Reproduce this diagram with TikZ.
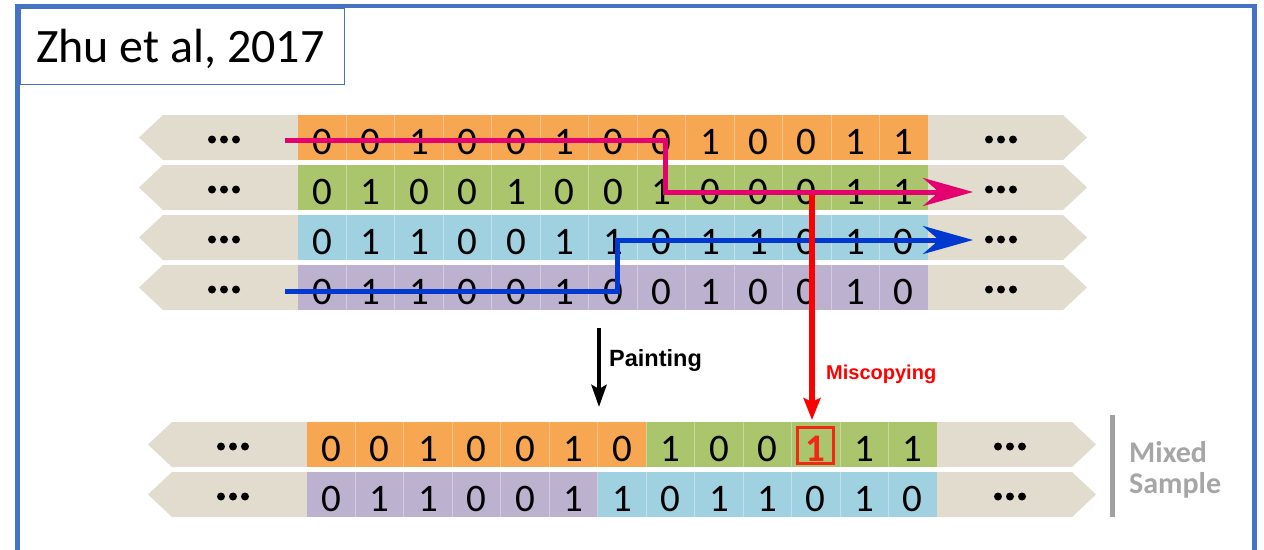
\documentclass[tikz,border=0pt]{standalone}
\usepackage{fontspec}
\setmainfont{Carlito}
\newfontfamily\arialf{Liberation Sans}
\usetikzlibrary{arrows.meta}
\definecolor{frameblue}{RGB}{68,114,196}
\definecolor{graybg}{RGB}{225,220,205}
\definecolor{corange}{RGB}{247,166,82}
\definecolor{cgreen}{RGB}{171,197,108}
\definecolor{cblue}{RGB}{160,209,225}
\definecolor{cpurple}{RGB}{188,177,207}
\definecolor{pinkline}{RGB}{228,0,110}
\definecolor{blueline}{RGB}{0,56,208}
\definecolor{redline}{RGB}{255,0,0}
\definecolor{boxred}{RGB}{240,40,20}
\definecolor{labelgray}{RGB}{166,166,166}
\definecolor{bargray}{RGB}{160,160,160}
\newcommand\redone{\textcolor{boxred}{\bfseries 1}}
\tikzset{
  cellbox/.style={inner sep=0pt, outer sep=0pt, minimum width=48.46pt, minimum height=45pt},
  digit/.style={inner sep=0pt, font=\fontsize{39}{39}\selectfont},
  dotsbox/.style={inner sep=0pt, outer sep=0pt, minimum width=32pt, minimum height=8pt},
  pathline/.style={line width=5pt, -{Stealth[length=50pt,width=28pt,inset=16pt]}},
  downarrow/.style={line width=5pt, -{Stealth[length=22pt,width=17pt,inset=4pt]}},
}
\newcommand\bitrow[7]{%
  \fill[graybg] ({#2-159},{#3+22.5}) -- ({#2-135},#3) -- (#2,#3) -- (#2,{#3+45}) -- ({#2-135},{#3+45}) -- cycle;
  \fill[graybg] ({#2+630},#3) -- ({#2+765},#3) -- ({#2+789},{#3+22.5}) -- ({#2+765},{#3+45}) -- ({#2+630},{#3+45}) -- cycle;
  \node[dotsbox] (#1-L) at ({#2-74},{#3+24.5}) {};
  \node[dotsbox] (#1-R) at ({#2+703},{#3+24.5}) {};
  \foreach \k in {-12,0,12} {
    \fill ([xshift=\k pt]#1-L.center) circle[radius=4pt];
    \fill ([xshift=\k pt]#1-R.center) circle[radius=4pt];
  }
  \foreach \d [count=\i from 0] in {#7} {
    \ifnum\i<#4\relax \def\cc{#5}\else\def\cc{#6}\fi
    \node[cellbox, fill=\cc, anchor=north west] (#1-\i) at ({#2+\i*48.46},#3) {};
    \ifnum\i>0\relax
      \draw[white, opacity=0.35, line width=1pt] ({#2+\i*48.46},#3) -- ({#2+\i*48.46},{#3+45});
    \fi
    \node[digit, anchor=base] (#1-d\i) at ({#2+(\i+0.5)*48.46},{#3+39}) {\d};
  }
}
\begin{document}
\begin{tikzpicture}[x=1pt,y=-1pt]
\useasboundingbox (0,0) rectangle (1264,549);
\clip (0,0) rectangle (1264,549);
\fill[white] (0,0) rectangle (1264,549);
% outer frame
\draw[frameblue, line width=4.5pt] (17.5,6) rectangle (1254.5,620);
% title
\node[draw=frameblue, line width=1.3pt, fill=white, inner sep=0pt, minimum width=324pt, minimum height=75.5pt, anchor=north west] (titlebox) at (20,8) {};
\node[anchor=base west, inner sep=0pt, font=\fontsize{48}{48}\selectfont] (title) at (36,62) {Zhu et al, 2017};
% top rows
\bitrow{r1}{298}{115}{13}{corange}{corange}{0,0,1,0,0,1,0,0,1,0,0,1,1}
\bitrow{r2}{298}{165}{13}{cgreen}{cgreen}{0,1,0,0,1,0,0,1,0,0,0,1,1}
\bitrow{r3}{298}{215}{13}{cblue}{cblue}{0,1,1,0,0,1,1,0,1,1,0,1,0}
\bitrow{r4}{298}{265}{13}{cpurple}{cpurple}{0,1,1,0,0,1,0,0,1,0,0,1,0}
% bottom rows
\bitrow{ma}{307}{422}{7}{corange}{cgreen}{0,0,1,0,0,1,0,1,0,0,\redone,1,1}
\bitrow{mb}{307}{472}{6}{cpurple}{cblue}{0,1,1,0,0,1,1,0,1,1,0,1,0}
\node[draw=boxred, line width=2.8pt, inner sep=0pt, minimum width=36pt, minimum height=36pt] (mbox) at (815.8,445.5) {};
% connector coordinates
\coordinate (b0) at (285,291);
\coordinate (b1) at (617,291);
\coordinate (b2) at (617,240);
\coordinate (b3) at (973,240);
\coordinate (p0) at (285,140);
\coordinate (p1) at (665,140);
\coordinate (p2) at (665,192);
\coordinate (p3) at (973,192);
\coordinate (m0) at (812,192);
\coordinate (m1) at (812,420);
\coordinate (pa0) at (599,328);
\coordinate (pa1) at (599,407);
\coordinate (bar0) at (1112,415);
\coordinate (bar1) at (1112,517);
% lines
\draw[blueline, pathline] (b0) -- (b1) -- (b2) -- (b3);
\draw[redline, downarrow, line width=5.5pt] (m0) -- (m1);
\draw[pinkline, pathline] (p0) -- (p1) -- (p2) -- (p3);
\draw[black, downarrow, line width=4.5pt, -{Stealth[length=22pt,width=15pt,inset=4pt]}] (pa0) -- (pa1);
\node[anchor=base west, inner sep=0pt, font=\arialf\bfseries\fontsize{23.5}{23.5}\selectfont] (painting) at (609,366.7) {Painting};
\node[anchor=base west, inner sep=0pt, text=redline, font=\arialf\bfseries\fontsize{20}{20}\selectfont] (miscopying) at (826,379) {Miscopying};
% mixed sample
\draw[bargray, line width=5pt] (bar0) -- (bar1);
\node[anchor=base west, inner sep=0pt, text=labelgray, font=\bfseries\fontsize{30}{30}\selectfont] (mixed) at (1129,462) {Mixed};
\node[anchor=base west, inner sep=0pt, text=labelgray, font=\bfseries\fontsize{30}{30}\selectfont] (sample) at (1129,493) {Sample};
\end{tikzpicture}
\end{document}
